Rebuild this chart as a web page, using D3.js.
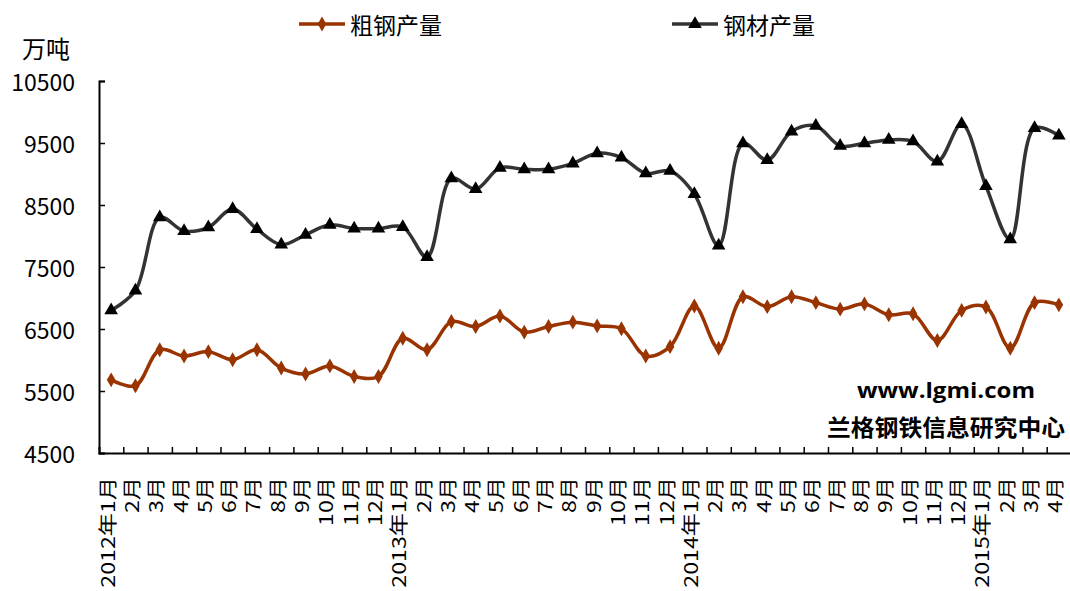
<!DOCTYPE html>
<html>
<head>
<meta charset="utf-8">
<script src="https://cdn.jsdelivr.net/npm/d3@7/dist/d3.min.js"></script>
<style>
  html, body { margin: 0; padding: 0; background: #fff; }
  svg { display: block; font-family: "Noto Sans CJK SC", "Noto Sans", sans-serif; }
</style>
</head>
<body>
<svg id="chart" width="1070" height="591"></svg>
<script>
// Monthly output, Jan 2012 – Apr 2015 (unit: 10k tonnes)
const months = [
  "2012年1月","2月","3月","4月","5月","6月","7月","8月","9月","10月","11月","12月",
  "2013年1月","2月","3月","4月","5月","6月","7月","8月","9月","10月","11月","12月",
  "2014年1月","2月","3月","4月","5月","6月","7月","8月","9月","10月","11月","12月",
  "2015年1月","2月","3月","4月"
];
const crudeSteel = [
  5680, 5585, 6165, 6065, 6135, 6005, 6165, 5870, 5775, 5905, 5735, 5735,
  6350, 6165, 6620, 6540, 6710, 6450, 6540, 6610, 6550, 6505, 6065, 6215,
  6870, 6190, 7020, 6860, 7020, 6925, 6820, 6905, 6730, 6745, 6315, 6800,
  6855, 6190, 6925, 6890
];
const steelProducts = [
  6800, 7120, 8300, 8080, 8140, 8435, 8110, 7860, 8020, 8180, 8120, 8120,
  8145, 7660, 8930, 8755, 9100, 9075, 9075, 9170, 9335, 9265, 9010, 9050,
  8675, 7845, 9495, 9225, 9685, 9775, 9455, 9495, 9550, 9525, 9200, 9805,
  8805, 7945, 9740, 9620
];
const yTicks = [4500, 5500, 6500, 7500, 8500, 9500, 10500];
const seriesNames = ["粗钢产量", "钢材产量"];
const unitLabel = "万吨";
const sourceUrl = "www.lgmi.com";
const sourceName = "兰格钢铁信息研究中心";

const svg = d3.select("#chart");
const plot = { left: 99, right: 1071, top: 81, bottom: 453 };

const x = d3.scaleBand().domain(months.map((m, i) => i))
  .range([plot.left, plot.right]).paddingInner(0).paddingOuter(0);
const xc = i => x(i) + x.bandwidth() / 2;
const y = d3.scaleLinear().domain([4500, 10500]).range([plot.bottom, plot.top]);

const crudeColor = "#993300";
const productLine = "#333333";

// Y axis: ticks point into the plot
const yAxis = svg.append("g")
  .attr("transform", `translate(${plot.left},0)`)
  .call(d3.axisRight(y).tickValues(yTicks).tickSize(6).tickFormat(""));
yAxis.select(".domain").attr("stroke", "#000").attr("stroke-width", 2);
yAxis.selectAll(".tick line").attr("stroke", "#000").attr("stroke-width", 1.5);

svg.append("g").selectAll("text").data(yTicks).join("text")
  .attr("x", 75).attr("y", d => y(d))
  .attr("text-anchor", "end").attr("dominant-baseline", "central")
  .attr("font-size", 23).attr("fill", "#000")
  .text(d => d);

// X axis: ticks between months, pointing up
const xAxis = svg.append("g")
  .attr("transform", `translate(0,${plot.bottom})`)
  .call(d3.axisTop(d3.scaleLinear().domain([0, 40]).range([plot.left, plot.right]))
    .tickValues(d3.range(1, 40)).tickSize(6).tickFormat(""));
xAxis.select(".domain").attr("stroke", "#000").attr("stroke-width", 2);
xAxis.selectAll(".tick line").attr("stroke", "#000").attr("stroke-width", 1.5);

// Month labels, vertical, slightly elongated along the reading direction
svg.append("g").selectAll("text").data(months).join("text")
  .attr("transform", (d, i) => `translate(${xc(i) - 5},477) rotate(-90) scale(1.22,1)`)
  .attr("text-anchor", "end").attr("dominant-baseline", "central")
  .attr("font-size", 19).attr("fill", "#000")
  .text(d => d);

// Unit label
svg.append("text").attr("x", 22).attr("y", 47)
  .attr("dominant-baseline", "central")
  .attr("font-size", 24).attr("fill", "#000").text(unitLabel);

// Lines
const line = d3.line()
  .x((d, i) => xc(i)).y(d => y(d))
  .curve(d3.curveCatmullRom.alpha(0.5));

svg.append("path").datum(steelProducts)
  .attr("d", line).attr("fill", "none")
  .attr("stroke", productLine).attr("stroke-width", 3.5);
svg.append("path").datum(crudeSteel)
  .attr("d", line).attr("fill", "none")
  .attr("stroke", crudeColor).attr("stroke-width", 3.5);

// Markers
const diamond = d3.symbol().type(d3.symbolDiamond).size(64);
const triangle = d3.symbol().type(d3.symbolTriangle).size(80);

svg.append("g").selectAll("path").data(steelProducts).join("path")
  .attr("transform", (d, i) => `translate(${xc(i)},${y(d)})`)
  .attr("d", triangle).attr("fill", "#000");
svg.append("g").selectAll("path").data(crudeSteel).join("path")
  .attr("transform", (d, i) => `translate(${xc(i)},${y(d)})`)
  .attr("d", diamond).attr("fill", crudeColor);

// Legend
const legend = [
  { name: seriesNames[0], x0: 299, color: crudeColor, mark: diamond, markColor: crudeColor },
  { name: seriesNames[1], x0: 672, color: productLine, mark: triangle, markColor: "#000" }
];
const lg = svg.append("g").selectAll("g").data(legend).join("g")
  .attr("transform", d => `translate(${d.x0},24)`);
lg.append("line").attr("x1", 0).attr("x2", 46).attr("y1", 0).attr("y2", 0)
  .attr("stroke", d => d.color).attr("stroke-width", 3.5);
lg.append("path").attr("transform", "translate(23,0)")
  .attr("d", d => d.mark()).attr("fill", d => d.markColor);
lg.append("text").attr("x", 51).attr("y", 0)
  .attr("dominant-baseline", "central")
  .attr("font-size", 23).attr("fill", "#000").text(d => d.name);

// Source watermark
svg.append("text").attr("x", 857).attr("y", 390)
  .attr("dominant-baseline", "central")
  .attr("font-family", "'Open Sans', 'Noto Sans', sans-serif")
  .attr("font-weight", "bold").attr("font-size", 21)
  .attr("textLength", 178).attr("lengthAdjust", "spacingAndGlyphs")
  .attr("fill", "#000").text(sourceUrl);
svg.append("text").attr("x", 827).attr("y", 426)
  .attr("dominant-baseline", "central")
  .attr("font-weight", "bold").attr("font-size", 23)
  .attr("textLength", 238).attr("lengthAdjust", "spacingAndGlyphs")
  .attr("fill", "#000").text(sourceName);
</script>
</body>
</html>
